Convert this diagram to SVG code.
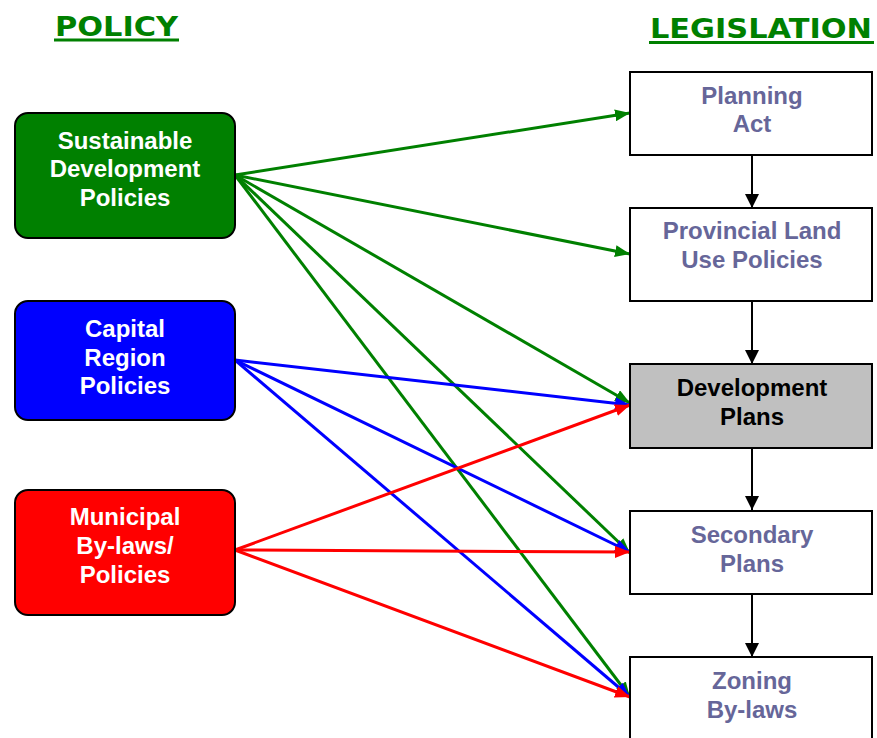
<svg xmlns="http://www.w3.org/2000/svg" width="877" height="738" viewBox="0 0 877 738">
<defs>
<marker id="ag" viewBox="0 0 15 12" refX="15" refY="6" markerWidth="15" markerHeight="12" markerUnits="userSpaceOnUse" orient="auto"><path d="M0,0 L15,6 L0,12 z" fill="#008000"/></marker>
<marker id="ab" viewBox="0 0 15 12" refX="15" refY="6" markerWidth="15" markerHeight="12" markerUnits="userSpaceOnUse" orient="auto"><path d="M0,0 L15,6 L0,12 z" fill="#0000ff"/></marker>
<marker id="ar" viewBox="0 0 15 12" refX="15" refY="6" markerWidth="15" markerHeight="12" markerUnits="userSpaceOnUse" orient="auto"><path d="M0,0 L15,6 L0,12 z" fill="#ff0000"/></marker>
<marker id="ak" viewBox="0 0 14 14" refX="14" refY="7" markerWidth="14" markerHeight="14" markerUnits="userSpaceOnUse" orient="auto"><path d="M0,0 L14,7 L0,14 z" fill="#000"/></marker>
</defs>
<style>
.title{font-family:"DejaVu Sans",Verdana,sans-serif;font-weight:bold;font-size:27px;fill:#008000}
.lt{font-family:"Liberation Sans",Arial,sans-serif;font-weight:bold;font-size:24px;fill:#fff;text-anchor:middle}
.rt{font-family:"Liberation Sans",Arial,sans-serif;font-weight:bold;font-size:24px;fill:#666699;text-anchor:middle}
.lb{stroke:#000;stroke-width:2}
.rb{fill:#fff;stroke:#000;stroke-width:2}
.g{stroke:#008000;stroke-width:3;fill:none;marker-end:url(#ag)}
.b{stroke:#0000ff;stroke-width:3;fill:none;marker-end:url(#ab)}
.r{stroke:#ff0000;stroke-width:3;fill:none;marker-end:url(#ar)}
.k{stroke:#000;stroke-width:2;fill:none;marker-end:url(#ak)}
</style>
<rect width="877" height="738" fill="#fff"/>
<g id="titles">
<text class="title" x="55" y="36" textLength="123" lengthAdjust="spacingAndGlyphs">POLICY</text>
<rect x="54" y="38.5" width="125" height="3" fill="#008000"/>
<text class="title" x="650" y="38" textLength="222" lengthAdjust="spacingAndGlyphs">LEGISLATION</text>
<rect x="649" y="41" width="225" height="3" fill="#008000"/>
</g>
<g id="connectors">
<line class="g" x1="235" y1="175" x2="630" y2="113"/>
<line class="g" x1="235" y1="175" x2="630" y2="254"/>
<line class="g" x1="235" y1="175" x2="630" y2="403"/>
<line class="g" x1="235" y1="175" x2="630" y2="553"/>
<line class="g" x1="235" y1="175" x2="630" y2="697"/>
<line class="b" x1="235" y1="360" x2="630" y2="405"/>
<line class="b" x1="235" y1="360" x2="630" y2="552"/>
<line class="b" x1="235" y1="360" x2="630" y2="697"/>
<line class="r" x1="235" y1="550" x2="630" y2="405"/>
<line class="r" x1="235" y1="550" x2="630" y2="552"/>
<line class="r" x1="235" y1="550" x2="630" y2="697"/>
<line class="k" x1="752" y1="155" x2="752" y2="208"/>
<line class="k" x1="752" y1="301" x2="752" y2="364"/>
<line class="k" x1="752" y1="448" x2="752" y2="510"/>
<line class="k" x1="752" y1="594" x2="752" y2="657"/>
</g>
<g id="sustainable">
<rect class="lb" x="15" y="113" width="220" height="125" rx="13" fill="#008000"/>
<text class="lt" x="125" y="149">Sustainable</text>
<text class="lt" x="125" y="177">Development</text>
<text class="lt" x="125" y="206">Policies</text>
</g>
<g id="capital">
<rect class="lb" x="15" y="301" width="220" height="119" rx="13" fill="#0000ff"/>
<text class="lt" x="125" y="337">Capital</text>
<text class="lt" x="125" y="366">Region</text>
<text class="lt" x="125" y="394">Policies</text>
</g>
<g id="municipal">
<rect class="lb" x="15" y="490" width="220" height="125" rx="13" fill="#ff0000"/>
<text class="lt" x="125" y="525">Municipal</text>
<text class="lt" x="125" y="554">By-laws/</text>
<text class="lt" x="125" y="583">Policies</text>
</g>
<g id="planning-act">
<rect class="rb" x="630" y="72" width="242" height="83"/>
<text class="rt" x="752" y="104">Planning</text>
<text class="rt" x="752" y="132">Act</text>
</g>
<g id="provincial">
<rect class="rb" x="630" y="208" width="242" height="93"/>
<text class="rt" x="752" y="239">Provincial Land</text>
<text class="rt" x="752" y="268">Use Policies</text>
</g>
<g id="development-plans">
<rect x="630" y="364" width="242" height="84" fill="#c0c0c0" stroke="#000" stroke-width="2"/>
<text class="rt" x="752" y="396" style="fill:#000">Development</text>
<text class="rt" x="752" y="425" style="fill:#000">Plans</text>
</g>
<g id="secondary">
<rect class="rb" x="630" y="511" width="242" height="83"/>
<text class="rt" x="752" y="543">Secondary</text>
<text class="rt" x="752" y="572">Plans</text>
</g>
<g id="zoning">
<rect class="rb" x="630" y="657" width="242" height="90"/>
<text class="rt" x="752" y="689">Zoning</text>
<text class="rt" x="752" y="718">By-laws</text>
</g>
</svg>
